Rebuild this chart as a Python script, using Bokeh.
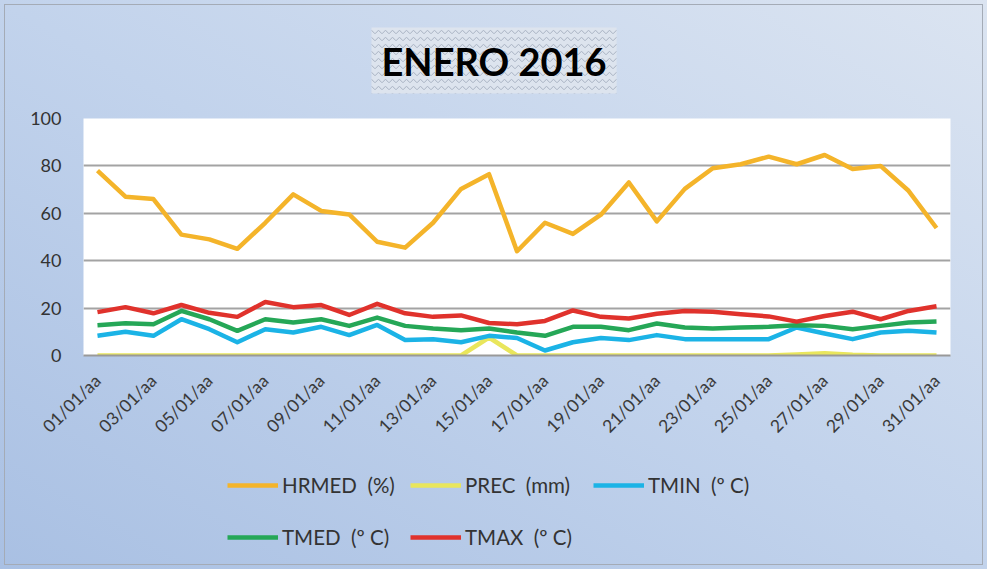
import math
from bokeh.plotting import figure
from bokeh.layouts import column
from bokeh.models import (ColumnDataSource, FixedTicker, Legend, LegendItem,
                          Range1d)
from bokeh.embed import file_html
from bokeh.resources import INLINE

# ---------------- data ----------------
days = [f"{d:02d}/01/aa" for d in range(1, 32)]
hrmed = [78, 67, 66, 51, 49, 45, 56, 68, 61, 59.5, 48, 45.5, 56, 70.3, 76.5,
         44, 56, 51.3, 59.4, 73, 56.6, 70.3, 79, 80.7, 83.9, 80.7, 84.6, 78.7,
         80, 69.5, 53.8]
prec = [0, 0, 0, 0, 0, 0, 0, 0, 0, 0, 0, 0, 0, 0, 7.6,
        0, 0, 0, 0, 0, 0, 0, 0, 0, 0, 0.4, 1.0, 0.3, 0, 0, 0]
tmin = [8.3, 10, 8.3, 15.3, 11.1, 5.6, 11.1, 9.7, 12.1, 8.6, 12.9, 6.5, 6.9,
        5.6, 8.3, 7.4, 2.1, 5.6, 7.4, 6.5, 8.6, 6.9, 6.9, 6.9, 6.9, 11.8, 9.3,
        6.9, 9.7, 10.4, 9.7]
tmed = [12.8, 13.6, 13.2, 18.8, 15.3, 10.4, 15.3, 13.9, 15.3, 12.5, 16, 12.5,
        11.4, 10.7, 11.4, 9.7, 8.3, 12.1, 12.1, 10.7, 13.5, 11.8, 11.4, 11.8,
        12.1, 12.8, 12.5, 11.1, 12.5, 13.9, 14.3]
tmax = [18.3, 20.4, 17.8, 21.3, 18, 16.3, 22.6, 20.4, 21.3, 17.1, 21.8, 17.8,
        16.3, 16.9, 13.7, 13.2, 14.6, 19, 16.3, 15.6, 17.6, 18.8, 18.5, 17.4,
        16.5, 14.3, 16.7, 18.5, 15.3, 18.8, 20.8]
series_names = ["HRMED  (%)", "PREC  (mm)", "TMIN  (º C)", "TMED  (º C)", "TMAX  (º C)"]
series_colors = ["#f4b42a", "#e9e65c", "#1bb3e6", "#25a757", "#e0322c"]
y_ticks = [0, 20, 40, 60, 80, 100]
title_text = "ENERO 2016"

FONT = "Lato"
idx = list(range(len(days)))
src = ColumnDataSource(dict(x=idx, hrmed=hrmed, prec=prec, tmin=tmin,
                            tmed=tmed, tmax=tmax))
cols = ["hrmed", "prec", "tmin", "tmed", "tmax"]

# ---------------- main chart ----------------
p = figure(width=987, height=461, output_backend="svg", toolbar_location=None,
           x_range=Range1d(-0.5, len(days) - 0.5), y_range=Range1d(0, 100),
           min_border_left=83, min_border_right=37, min_border_top=117,
           min_border_bottom=106)
p.background_fill_color = "white"
p.border_fill_alpha = 0
p.outline_line_color = None

for c, col in zip(cols, series_colors):
    p.line("x", c, source=src, line_color=col, line_width=4.5,
           line_join="round")

p.xaxis.ticker = FixedTicker(ticks=idx[::2])
p.xaxis.major_label_overrides = {i: days[i] for i in idx}
p.xaxis.major_label_orientation = math.pi / 4
p.xaxis.major_label_text_font = FONT
p.xaxis.major_label_text_font_size = "17.5px"
p.xaxis.major_label_text_color = "#3a3a3a"
p.xaxis.major_tick_line_color = None
p.xaxis.minor_tick_line_color = None
p.xaxis.major_tick_out = 0
p.xaxis.major_label_standoff = 22
p.xaxis.axis_line_color = "#999999"
p.xaxis.axis_line_width = 2

p.yaxis.ticker = FixedTicker(ticks=y_ticks)
p.yaxis.major_label_text_font = FONT
p.yaxis.major_label_text_font_size = "18px"
p.yaxis.major_label_text_color = "#333333"
p.yaxis.axis_line_color = None
p.yaxis.major_tick_line_color = None
p.yaxis.minor_tick_line_color = None
p.yaxis.major_tick_out = 0
p.yaxis.major_label_standoff = 22

p.xgrid.grid_line_color = None
p.ygrid.grid_line_color = "#a3a3a3"
p.ygrid.grid_line_width = 2

t = p.title
t.text = title_text
t.align = "left"
t.offset = 288
t.text_font = FONT
t.text_font_size = "38px"
t.text_font_style = "bold"
t.text_color = "black"
t.standoff = 50
for k, v in dict(background_fill_color="#dde4ee",
                 background_hatch_pattern="horizontal_wave",
                 background_hatch_color="#a8b2c2",
                 background_hatch_scale=7,
                 background_hatch_weight=1,
                 padding=10).items():
    try:
        setattr(t, k, v)
    except Exception:
        pass

# ---------------- legend strip ----------------
# same series drawn outside the visible ranges so only their legend shows
q = figure(width=987, height=108, output_backend="svg", toolbar_location=None,
           x_range=Range1d(1000, 1001), y_range=Range1d(1000, 1001),
           min_border=0, x_axis_type=None, y_axis_type=None)
q.background_fill_alpha = 0
q.border_fill_alpha = 0
q.outline_line_color = None
q.grid.visible = False

leg_r = [q.line("x", c, source=src, line_color=col, line_width=4.5)
         for c, col in zip(cols, series_colors)]

common = dict(orientation="horizontal", padding=0, margin=0,
              border_line_alpha=0, background_fill_alpha=0,
              glyph_width=51, glyph_height=48, label_height=48,
              label_width=124, label_standoff=4, spacing=4,
              label_text_font=FONT, label_text_font_size="20.5px",
              label_text_color="#333333")
row1 = Legend(items=[LegendItem(label=series_names[i], renderers=[leg_r[i]])
                     for i in range(3)], location=(144, 60), **common)
row2 = Legend(items=[LegendItem(label=series_names[i], renderers=[leg_r[i]])
                     for i in range(3, 5)], location=(144, 8), **common)
q.add_layout(row1)
q.add_layout(row2)

layout = column(p, q, spacing=0)
layout.styles = {
    "background": "linear-gradient(to top right, #a9c0e3 0%, #c2d3ec 50%, #dbe4f1 100%)",
    "outline": "1px solid #a4abb6",
    "outline-offset": "-5px",
}
open("out.html", "w").write(file_html(layout, INLINE))
